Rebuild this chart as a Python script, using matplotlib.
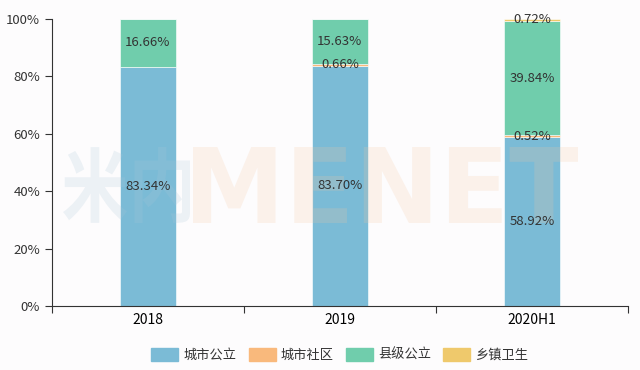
import numpy as np
import matplotlib.pyplot as plt
from matplotlib.patches import FancyBboxPatch, PathPatch
from matplotlib.textpath import TextPath
from matplotlib.font_manager import FontProperties
from matplotlib.transforms import Affine2D, IdentityTransform

plt.rcParams['font.family'] = ['Noto Sans CJK SC', 'DejaVu Sans']

# data
categories = ['2018', '2019', '2020H1']
series_names = ['城市公立', '城市社区', '县级公立', '乡镇卫生']
city_public = [83.34, 83.70, 58.92]
city_community = [0.0, 0.66, 0.52]
county_public = [16.66, 15.63, 39.84]
township = [0.0, 0.0, 0.72]
colors = ['#7bbbd6', '#f9b97c', '#70cdac', '#efc96c']

series = [city_public, city_community, county_public, township]

fig = plt.figure(figsize=(6.4, 3.7), dpi=100, facecolor='#fdfcfd')
ax = fig.add_axes([0.081, 0.173, 0.9, 0.776])
ax.set_facecolor('#fdfcfd')

x = np.arange(len(categories))
bottom = np.zeros(len(categories))
for name, vals, c in zip(series_names, series, colors):
    vals = np.array(vals)
    ax.bar(x, vals, width=0.29, bottom=bottom, color=c, label=name, zorder=2,
           edgecolor='white', linewidth=0.4)
    for xi, v, b in zip(x, vals, bottom):
        if v > 0:
            ax.text(xi, b + v / 2, f'{v:.2f}%', ha='center', va='center',
                    fontsize=9.5, color='#333333', zorder=6)
    bottom = bottom + vals


# watermark, squeezed into a pixel box (x0, x1, y0, y1 from bottom-left)
def watermark(text, box, color, family):
    path = TextPath((0, 0), text, size=100,
                    prop=FontProperties(family=family, weight='bold'))
    ext = path.get_extents()
    x0, x1, y0, y1 = box
    tr = (Affine2D().translate(-ext.x0, -ext.y0)
          .scale((x1 - x0) / ext.width, (y1 - y0) / ext.height)
          .translate(x0, y0))
    patch = PathPatch(tr.transform_path(path), facecolor=color, edgecolor='none',
                      alpha=0.2, transform=IdentityTransform(), zorder=4,
                      clip_on=False)
    ax.add_artist(patch)


watermark('米内', (63, 190, 147, 223), '#a9c6d8', 'Noto Sans CJK SC')
watermark('MENET', (193, 578, 147, 223), '#f5c6a0', 'DejaVu Sans')

ax.set_xlim(-0.5, 2.5)
ax.set_ylim(0, 100)
ax.set_yticks([0, 20, 40, 60, 80, 100])
ax.set_yticklabels([f'{v}%' for v in [0, 20, 40, 60, 80, 100]])
ax.set_xticks([-0.5, 0.5, 1.5, 2.5])
ax.set_xticklabels([])
ax.set_xticks(x, minor=True)
ax.set_xticklabels(categories, minor=True)
ax.tick_params(axis='x', which='minor', length=0, pad=5)
ax.tick_params(axis='x', which='major', length=5, color='#333333')
ax.tick_params(axis='y', length=5, color='#333333')
ax.tick_params(labelsize=9.5, labelcolor='#333333')
for s in ['top', 'right']:
    ax.spines[s].set_visible(False)
for s in ['left', 'bottom']:
    ax.spines[s].set_color('#333333')

handles = [FancyBboxPatch((0, 0), 1, 1, boxstyle='round,pad=0.1', color=c)
           for c in colors]
leg = fig.legend(handles, series_names, loc='center', bbox_to_anchor=(0.531, 0.04),
                 ncol=4, frameon=False, fontsize=9.5, handlelength=2.05,
                 handleheight=1.1, columnspacing=0.9, handletextpad=0.4)
for t in leg.get_texts():
    t.set_color('#333333')

fig.savefig('out.png', dpi=100, facecolor=fig.get_facecolor())
